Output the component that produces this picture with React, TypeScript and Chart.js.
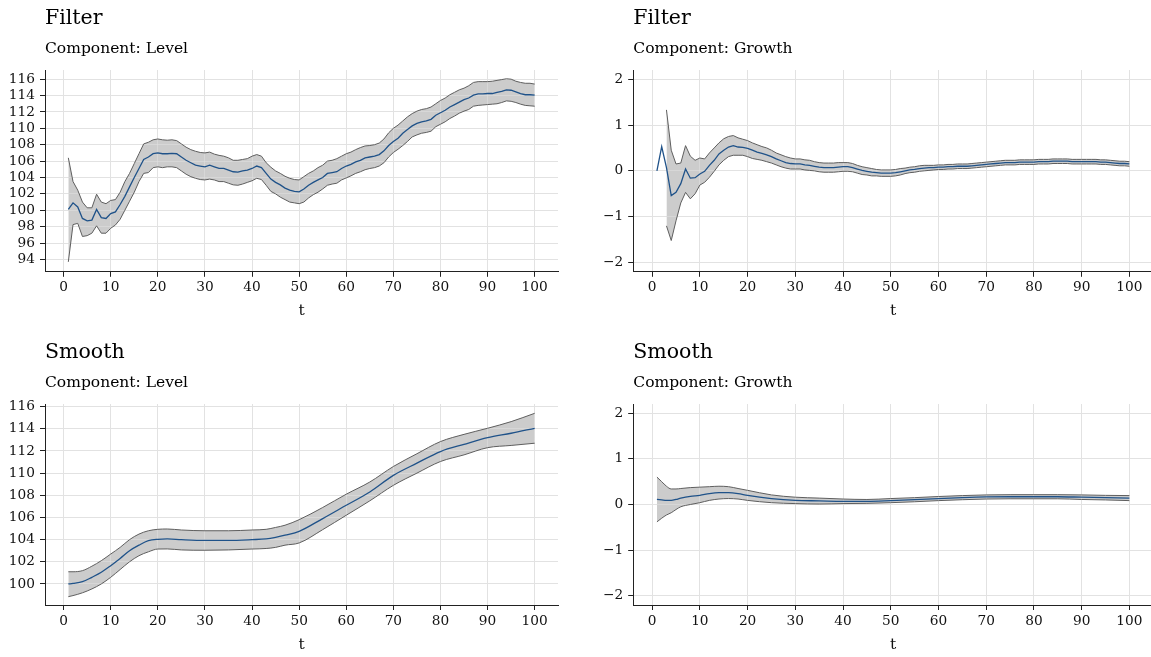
import { useEffect, useRef } from "react";
import { Chart, registerables } from "chart.js";

Chart.register(...registerables);

// ---- time index -------------------------------------------------------
const T_FILTER: number[] = Array.from({ length: 100 }, (_, i) => i + 1);
const T_FILTER_BAND: number[] = T_FILTER.slice(2);
const X_TICKS = [0, 10, 20, 30, 40, 50, 60, 70, 80, 90, 100];

// ---- Filter / Level ---------------------------------------------------
const FILTER_LEVEL_MID = [
  100.1, 100.9, 100.4, 99.0, 98.7, 98.8, 100.1, 99.1, 99.0, 99.6,
  99.8, 100.7, 101.7, 102.85, 104.0, 105.1, 106.2, 106.5, 106.9, 107.0,
  106.9, 106.9, 106.95, 106.9, 106.5, 106.1, 105.8, 105.5, 105.4, 105.3,
  105.5, 105.3, 105.1, 105.1, 104.9, 104.7, 104.65, 104.8, 104.9, 105.1,
  105.4, 105.2, 104.5, 103.8, 103.4, 103.1, 102.7, 102.45, 102.3, 102.25,
  102.6, 103.05, 103.4, 103.7, 104.0, 104.5, 104.6, 104.7, 105.1, 105.4,
  105.6, 105.9, 106.1, 106.4, 106.5, 106.6, 106.8, 107.25, 107.9, 108.4,
  108.8, 109.4, 109.85, 110.3, 110.6, 110.8, 110.9, 111.1, 111.6, 111.9,
  112.2, 112.6, 112.9, 113.2, 113.5, 113.7, 114.05, 114.2, 114.2, 114.25,
  114.25, 114.4, 114.5, 114.7, 114.65, 114.45, 114.25, 114.1, 114.1, 114.05,
];
const FILTER_LEVEL_UP = [
  106.4, 103.5, 102.45, 101.0, 100.3, 100.3, 101.96, 101.0, 100.8, 101.2,
  101.3, 102.2, 103.5, 104.5, 105.7, 106.9, 108.1, 108.3, 108.6, 108.7,
  108.6, 108.55, 108.6, 108.5, 108.1, 107.7, 107.4, 107.2, 107.05, 107.0,
  107.1, 106.85, 106.7, 106.6, 106.4, 106.1, 106.1, 106.2, 106.3, 106.6,
  106.8, 106.6, 105.8, 105.25, 104.8, 104.5, 104.15, 103.9, 103.75, 103.7,
  104.1, 104.5, 104.8, 105.2, 105.5, 106.0, 106.1, 106.3, 106.6, 106.9,
  107.1, 107.4, 107.65, 107.85, 107.9, 108.0, 108.2, 108.7, 109.45, 110.0,
  110.4, 110.9, 111.4, 111.8, 112.1, 112.3, 112.4, 112.6, 113.0, 113.4,
  113.7, 114.1, 114.4, 114.7, 114.9, 115.2, 115.6, 115.7, 115.7, 115.7,
  115.75, 115.85, 115.95, 116.05, 116.0, 115.75, 115.6, 115.5, 115.5, 115.4,
];
const FILTER_LEVEL_LO = [
  93.7, 98.25, 98.4, 96.8, 96.9, 97.2, 98.1, 97.2, 97.2, 97.8,
  98.2, 98.9, 100.0, 101.1, 102.2, 103.5, 104.5, 104.6, 105.2, 105.3,
  105.2, 105.3, 105.3, 105.2, 104.8, 104.4, 104.1, 103.9, 103.75, 103.7,
  103.8, 103.7, 103.5, 103.5, 103.3, 103.1, 103.05, 103.2, 103.4, 103.6,
  103.9, 103.75, 103.05, 102.3, 102.0, 101.6, 101.3, 101.0, 100.9, 100.8,
  101.0, 101.5, 101.9, 102.2, 102.6, 103.05, 103.2, 103.3, 103.7, 103.95,
  104.2, 104.5, 104.7, 104.95, 105.1, 105.2, 105.4, 105.8, 106.5, 107.05,
  107.45, 107.9, 108.4, 108.95, 109.2, 109.4, 109.5, 109.65, 110.2, 110.5,
  110.8, 111.2, 111.5, 111.85, 112.1, 112.3, 112.7, 112.8, 112.85, 112.9,
  112.95, 113.0, 113.15, 113.35, 113.3, 113.15, 112.95, 112.8, 112.75, 112.7,
];

// ---- Filter / Growth (interval starts at t = 3) -----------------------
const FILTER_GROWTH_MID = [
  0.0, 0.53, 0.07, -0.54, -0.47, -0.28, 0.04, -0.16, -0.15, -0.07,
  -0.01, 0.12, 0.23, 0.37, 0.45, 0.52, 0.55, 0.52, 0.51, 0.49,
  0.45, 0.41, 0.38, 0.35, 0.31, 0.26, 0.22, 0.18, 0.16, 0.15,
  0.15, 0.13, 0.12, 0.1, 0.08, 0.07, 0.07, 0.07, 0.08, 0.09,
  0.09, 0.07, 0.04, 0.01, -0.01, -0.03, -0.04, -0.05, -0.05, -0.05,
  -0.04, -0.02, 0.0, 0.02, 0.03, 0.05, 0.06, 0.07, 0.07, 0.08,
  0.08, 0.09, 0.09, 0.1, 0.1, 0.1, 0.11, 0.12, 0.13, 0.14,
  0.15, 0.16, 0.17, 0.18, 0.18, 0.18, 0.19, 0.19, 0.19, 0.19,
  0.2, 0.2, 0.2, 0.21, 0.21, 0.21, 0.21, 0.2, 0.2, 0.2,
  0.2, 0.2, 0.2, 0.19, 0.19, 0.18, 0.17, 0.16, 0.16, 0.15,
];
const FILTER_GROWTH_UP = [
  1.33, 0.45, 0.15, 0.17, 0.55, 0.32, 0.23, 0.28,
  0.26, 0.39, 0.5, 0.61, 0.7, 0.75, 0.77, 0.72, 0.69, 0.66,
  0.61, 0.57, 0.53, 0.5, 0.45, 0.39, 0.35, 0.31, 0.28, 0.26,
  0.26, 0.24, 0.23, 0.2, 0.18, 0.17, 0.17, 0.17, 0.18, 0.18,
  0.18, 0.16, 0.12, 0.09, 0.07, 0.05, 0.03, 0.02, 0.02, 0.02,
  0.03, 0.05, 0.06, 0.08, 0.09, 0.11, 0.12, 0.12, 0.12, 0.13,
  0.13, 0.14, 0.14, 0.15, 0.15, 0.15, 0.16, 0.17, 0.18, 0.19,
  0.2, 0.21, 0.22, 0.23, 0.23, 0.23, 0.24, 0.24, 0.24, 0.24,
  0.25, 0.25, 0.25, 0.26, 0.26, 0.26, 0.26, 0.25, 0.25, 0.25,
  0.25, 0.25, 0.25, 0.24, 0.24, 0.23, 0.22, 0.21, 0.21, 0.2,
];
const FILTER_GROWTH_LO = [
  -1.2, -1.52, -1.09, -0.7, -0.47, -0.61, -0.5, -0.31,
  -0.25, -0.14, -0.01, 0.13, 0.23, 0.31, 0.34, 0.34, 0.34, 0.31,
  0.27, 0.25, 0.23, 0.2, 0.17, 0.13, 0.09, 0.06, 0.04, 0.04,
  0.04, 0.02, 0.01, 0.0, -0.02, -0.03, -0.03, -0.03, -0.02, -0.01,
  -0.01, -0.02, -0.05, -0.08, -0.09, -0.11, -0.11, -0.12, -0.12, -0.12,
  -0.11, -0.09, -0.06, -0.04, -0.03, -0.01, 0.0, 0.01, 0.02, 0.03,
  0.03, 0.04, 0.04, 0.05, 0.05, 0.05, 0.06, 0.07, 0.08, 0.09,
  0.1, 0.11, 0.12, 0.13, 0.13, 0.13, 0.14, 0.14, 0.14, 0.14,
  0.15, 0.15, 0.15, 0.16, 0.16, 0.16, 0.16, 0.15, 0.15, 0.15,
  0.15, 0.15, 0.15, 0.14, 0.14, 0.13, 0.12, 0.11, 0.11, 0.1,
];

// ---- Smooth / Level ---------------------------------------------------
const T_SMOOTH_LEVEL = [1, 2, 4, 6, 8, 10, 12, 14, 16, 18, 20, 22, 25, 30, 35, 40, 43, 45, 47, 50, 55, 60, 65, 70, 75, 80, 85, 90, 95, 100];
const SMOOTH_LEVEL_MID = [100.0, 100.05, 100.2, 100.6, 101.05, 101.65, 102.3, 103.0, 103.5, 103.9, 104.03, 104.06, 104.0, 103.94, 103.94, 104.0, 104.06, 104.2, 104.4, 104.75, 105.9, 107.1, 108.3, 109.8, 110.9, 111.95, 112.6, 113.2, 113.6, 114.05];
const SMOOTH_LEVEL_UP = [101.1, 101.1, 101.2, 101.6, 102.1, 102.7, 103.3, 104.0, 104.5, 104.8, 104.93, 104.96, 104.87, 104.8, 104.8, 104.87, 104.93, 105.1, 105.3, 105.8, 106.9, 108.1, 109.2, 110.6, 111.75, 112.85, 113.5, 114.05, 114.65, 115.4];
const SMOOTH_LEVEL_LO = [98.85, 98.95, 99.2, 99.55, 100.0, 100.6, 101.3, 102.0, 102.55, 102.9, 103.15, 103.16, 103.07, 103.04, 103.07, 103.15, 103.2, 103.3, 103.5, 103.7, 104.9, 106.2, 107.5, 108.9, 110.0, 111.05, 111.65, 112.3, 112.5, 112.7];

// ---- Smooth / Growth --------------------------------------------------
const T_SMOOTH_GROWTH = [1, 2, 3, 4, 5, 6, 8, 10, 12, 14, 16, 18, 20, 25, 30, 35, 40, 45, 50, 55, 60, 65, 70, 75, 80, 85, 90, 95, 100];
const SMOOTH_GROWTH_MID = [0.11, 0.1, 0.09, 0.09, 0.11, 0.14, 0.18, 0.2, 0.24, 0.26, 0.26, 0.24, 0.2, 0.13, 0.09, 0.08, 0.07, 0.07, 0.085, 0.105, 0.13, 0.15, 0.165, 0.17, 0.17, 0.17, 0.16, 0.15, 0.14];
const SMOOTH_GROWTH_UP = [0.6, 0.5, 0.4, 0.34, 0.34, 0.35, 0.37, 0.38, 0.39, 0.4, 0.39, 0.35, 0.31, 0.21, 0.16, 0.14, 0.12, 0.11, 0.13, 0.15, 0.175, 0.195, 0.21, 0.215, 0.215, 0.215, 0.21, 0.2, 0.195];
const SMOOTH_GROWTH_LO = [-0.38, -0.3, -0.23, -0.18, -0.11, -0.05, 0.0, 0.04, 0.09, 0.12, 0.13, 0.12, 0.09, 0.04, 0.02, 0.01, 0.02, 0.025, 0.04, 0.06, 0.085, 0.105, 0.12, 0.125, 0.125, 0.125, 0.11, 0.1, 0.085];

// ---- axis ticks ------------------------------------------------------
const LEVEL_TICKS_FILTER = [94, 96, 98, 100, 102, 104, 106, 108, 110, 112, 114, 116];
const LEVEL_TICKS_SMOOTH = [100, 102, 104, 106, 108, 110, 112, 114, 116];
const GROWTH_TICKS = [-2, -1, 0, 1, 2];

// ---- styling --------------------------------------------------------
const SERIF = "'DejaVu Serif', serif";
const BAND_FILL = "#cccccc";
const BAND_EDGE = "#5e5e5e";
const MEAN_LINE = "#1f5289";
const GRID = "#e2e2e2";
const SPINE = "#222222";

type Panel = {
  title: string;
  subtitle: string;
  t: number[];
  mid: number[];
  bandT: number[];
  up: number[];
  lo: number[];
  yTicks: number[];
  yMin: number;
  yMax: number;
  smooth: boolean;
  left: number;
  top: number;
  width: number;
  height: number;
  yAxisWidth: number;
  xAxisHeight: number;
  padRight: number;
  xTitlePad: number;
};

const PANELS: Panel[] = [
  {
    title: "Filter", subtitle: "Component: Level",
    t: T_FILTER, mid: FILTER_LEVEL_MID, bandT: T_FILTER, up: FILTER_LEVEL_UP, lo: FILTER_LEVEL_LO,
    yTicks: LEVEL_TICKS_FILTER, yMin: 92.5, yMax: 117.12, smooth: false,
    left: 0, top: 0, width: 575, height: 334, yAxisWidth: 45, xAxisHeight: 62.3, padRight: 17, xTitlePad: 14,
  },
  {
    title: "Filter", subtitle: "Component: Growth",
    t: T_FILTER, mid: FILTER_GROWTH_MID, bandT: T_FILTER_BAND, up: FILTER_GROWTH_UP, lo: FILTER_GROWTH_LO,
    yTicks: GROWTH_TICKS, yMin: -2.2, yMax: 2.2, smooth: false,
    left: 575, top: 0, width: 600, height: 334, yAxisWidth: 58.3, xAxisHeight: 62.3, padRight: 22, xTitlePad: 14,
  },
  {
    title: "Smooth", subtitle: "Component: Level",
    t: T_SMOOTH_LEVEL, mid: SMOOTH_LEVEL_MID, bandT: T_SMOOTH_LEVEL, up: SMOOTH_LEVEL_UP, lo: SMOOTH_LEVEL_LO,
    yTicks: LEVEL_TICKS_SMOOTH, yMin: 98.1, yMax: 116.24, smooth: true,
    left: 0, top: 334, width: 575, height: 323, yAxisWidth: 45, xAxisHeight: 52, padRight: 17, xTitlePad: 2.5,
  },
  {
    title: "Smooth", subtitle: "Component: Growth",
    t: T_SMOOTH_GROWTH, mid: SMOOTH_GROWTH_MID, bandT: T_SMOOTH_GROWTH, up: SMOOTH_GROWTH_UP, lo: SMOOTH_GROWTH_LO,
    yTicks: GROWTH_TICKS, yMin: -2.2, yMax: 2.2, smooth: true,
    left: 575, top: 334, width: 600, height: 323, yAxisWidth: 58.3, xAxisHeight: 52, padRight: 22, xTitlePad: 2.5,
  },
];

const toPoints = (xs: number[], ys: number[]) => ys.map((y, i) => ({ x: xs[i], y }));

const fmtTick = (v: number) => (v < 0 ? "\u2212" + Math.abs(v) : String(v));

// The interval is filled first; the grid is then repainted faintly over
// that fill and the spines restored, so boundary and mean lines stay on top.
const gridOverBand = {
  id: "gridOverBand",
  afterDatasetDraw(chart: any, args: any) {
    if (args.index !== 1) return;
    const ctx = chart.ctx;
    ctx.save();
    ctx.globalAlpha = 0.5;
    for (const id of ["x", "y"]) {
      const scale = chart.scales[id];
      if (scale) scale.drawGrid(chart.chartArea);
    }
    ctx.restore();
    for (const id of ["x", "y"]) {
      const scale = chart.scales[id];
      if (scale) scale.drawBorder();
    }
  },
};

function buildConfig(p: Panel): any {
  const curve = p.smooth ? { cubicInterpolationMode: "monotone" as const } : { tension: 0 };
  const tickFont = { family: SERIF, size: 13.7, lineHeight: 1.2 };
  const gridOpts = {
    color: GRID,
    lineWidth: 1,
    drawTicks: true,
    tickLength: 5,
    tickColor: SPINE,
    tickWidth: 1,
  };
  const line = (ys: number[], xs: number[], color: string, width: number, order: number) => ({
    data: toPoints(xs, ys),
    borderColor: color,
    borderWidth: width,
    pointRadius: 0,
    fill: false,
    order,
    ...curve,
  });
  return {
    type: "line",
    data: {
      datasets: [
        // interval: lower bound (fill base) and upper bound filled down to it
        { ...line(p.lo, p.bandT, "rgba(0,0,0,0)", 0, 6) },
        { ...line(p.up, p.bandT, "rgba(0,0,0,0)", 0, 5), fill: "-1", backgroundColor: BAND_FILL },
        // interval boundaries
        line(p.lo, p.bandT, BAND_EDGE, 1, 3),
        line(p.up, p.bandT, BAND_EDGE, 1, 2),
        // estimate
        line(p.mid, p.t, MEAN_LINE, 1.3, 1),
      ],
    },
    plugins: [gridOverBand],
    options: {
      responsive: false,
      animation: false,
      events: [],
      layout: { padding: { left: 0, right: p.padRight, top: 0, bottom: 0 } },
      plugins: {
        legend: { display: false },
        tooltip: { enabled: false },
        title: {
          display: true,
          text: p.title,
          align: "start",
          fullSize: false,
          color: "#000",
          font: { family: SERIF, size: 20.5, weight: "normal", lineHeight: 1.2 },
          padding: { top: 6.4, bottom: 0 },
        },
        subtitle: {
          display: true,
          text: p.subtitle,
          align: "start",
          fullSize: false,
          color: "#000",
          font: { family: SERIF, size: 15.5, weight: "normal", lineHeight: 1.2 },
          padding: { top: 8.6, bottom: 11.8 },
        },
      },
      scales: {
        x: {
          type: "linear",
          min: -3.95,
          max: 104.95,
          afterBuildTicks: (s: any) => {
            s.ticks = X_TICKS.map((v) => ({ value: v }));
          },
          afterFit: (s: any) => {
            s.height = p.xAxisHeight;
          },
          grid: gridOpts,
          border: { display: true, color: SPINE, width: 1 },
          ticks: {
            color: "#111",
            font: tickFont,
            padding: 3,
            maxRotation: 0,
            autoSkip: false,
            callback: (v: number) => fmtTick(v),
          },
          title: {
            display: true,
            text: "t",
            color: "#111",
            font: { family: SERIF, size: 15.5, lineHeight: 1.2 },
            padding: { top: 0, bottom: p.xTitlePad },
          },
        },
        y: {
          type: "linear",
          min: p.yMin,
          max: p.yMax,
          afterBuildTicks: (s: any) => {
            s.ticks = p.yTicks.map((v) => ({ value: v }));
          },
          afterFit: (s: any) => {
            s.width = p.yAxisWidth;
          },
          grid: gridOpts,
          border: { display: true, color: SPINE, width: 1 },
          ticks: {
            color: "#111",
            font: tickFont,
            padding: 5,
            autoSkip: false,
            callback: (v: number) => fmtTick(v),
          },
        },
      },
    },
  };
}

function PanelChart({ panel }: { panel: Panel }) {
  const ref = useRef<HTMLCanvasElement | null>(null);
  useEffect(() => {
    if (!ref.current) return;
    const chart = new Chart(ref.current, buildConfig(panel));
    return () => chart.destroy();
  }, [panel]);
  return (
    <canvas
      ref={ref}
      width={panel.width}
      height={panel.height}
      style={{
        position: "absolute",
        left: panel.left,
        top: panel.top,
        width: panel.width,
        height: panel.height,
      }}
    />
  );
}

export default function App() {
  return (
    <div
      style={{
        position: "absolute",
        left: 0,
        top: 0,
        width: 1151,
        height: 657,
        overflow: "hidden",
        background: "#ffffff",
      }}
    >
      {PANELS.map((p, i) => (
        <PanelChart key={i} panel={p} />
      ))}
    </div>
  );
}
